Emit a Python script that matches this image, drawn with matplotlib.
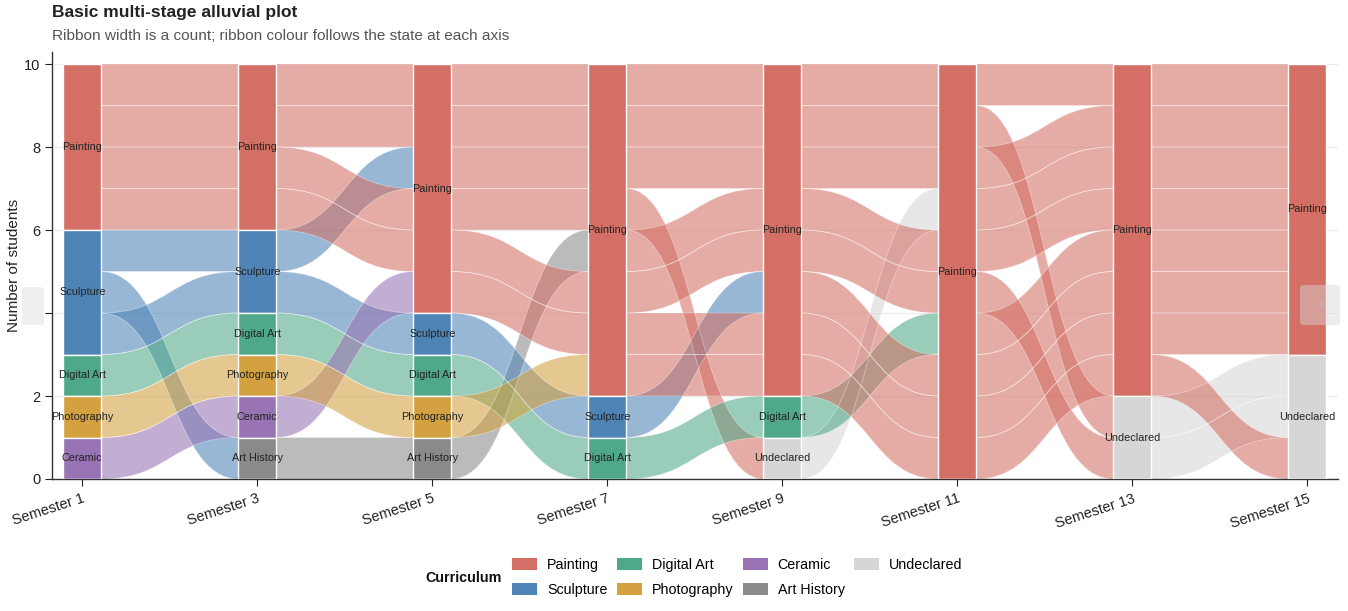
import matplotlib
matplotlib.use("Agg")
import matplotlib.pyplot as plt
from matplotlib.path import Path
from matplotlib.patches import PathPatch, Rectangle, Patch, FancyBboxPatch

plt.rcParams['font.family'] = ['Liberation Sans', 'DejaVu Sans']

# ---------------- data ----------------
semesters = ["Semester 1", "Semester 3", "Semester 5", "Semester 7",
             "Semester 9", "Semester 11", "Semester 13", "Semester 15"]
curricula = ["Painting", "Sculpture", "Digital Art", "Photography",
             "Ceramic", "Art History", "Undeclared"]   # stacking order, top -> bottom
colors = {"Painting": "#D36F64", "Sculpture": "#4E84B5", "Digital Art": "#4FA887",
          "Photography": "#D3A140", "Ceramic": "#9974B4", "Art History": "#8A8A8A",
          "Undeclared": "#D6D6D6"}

# one path per student (state at each semester), listed in lode order
student_1 = ["Painting", "Painting", "Painting", "Painting", "Painting", "Painting", "Painting", "Painting"]
student_2 = ["Painting", "Painting", "Painting", "Painting", "Painting", "Painting", "Undeclared", "Undeclared"]
student_3 = ["Sculpture", "Sculpture", "Painting", "Painting", "Painting", "Painting", "Painting", "Painting"]
student_4 = ["Painting", "Painting", "Painting", "Painting", "Undeclared", "Painting", "Painting", "Painting"]
student_5 = ["Sculpture", "Art History", "Art History", "Painting", "Painting", "Painting", "Painting", "Painting"]
student_6 = ["Painting", "Painting", "Painting", "Painting", "Painting", "Painting", "Undeclared", "Undeclared"]
student_7 = ["Digital Art", "Digital Art", "Digital Art", "Digital Art", "Digital Art", "Painting", "Painting", "Painting"]
student_8 = ["Sculpture", "Sculpture", "Sculpture", "Sculpture", "Painting", "Painting", "Painting", "Painting"]
student_9 = ["Ceramic", "Ceramic", "Painting", "Painting", "Painting", "Painting", "Painting", "Painting"]
student_10 = ["Photography", "Photography", "Photography", "Painting", "Painting", "Painting", "Painting", "Undeclared"]
students = [student_1, student_2, student_3, student_4, student_5,
            student_6, student_7, student_8, student_9, student_10]
counts = [1] * len(students)   # each ribbon lode counts one student

# ---------------- layout ----------------
W, H = 1348, 611
fig = plt.figure(figsize=(W / 100, H / 100), dpi=100)
ax_l, ax_r, ax_t, ax_b = 52, 1338, 52, 479
ax = fig.add_axes([ax_l / W, 1 - ax_b / H, (ax_r - ax_l) / W, (ax_b - ax_t) / H])

n_axes = len(semesters)
total = sum(counts)
sw = 0.215   # stratum width (axis units)

# compute lode positions at each axis
lodes = []  # lodes[a][s] = (bottom, top)
strata = []  # strata[a] = list of (name, bottom, top)
for a in range(n_axes):
    pos = {}
    st = []
    cur = total
    for c in curricula:
        top_c = cur
        for s, path in enumerate(students):
            if path[a] == c:
                pos[s] = (cur - counts[s], cur)
                cur -= counts[s]
        if cur < top_c:
            st.append((c, cur, top_c))
    lodes.append(pos)
    strata.append(st)

# gridlines
for yv in range(0, 11, 2):
    ax.axhline(yv, color="#EBEBEB", lw=0.8, zorder=0)

# ribbons
for a in range(n_axes - 1):
    x0 = a + sw / 2
    x1 = a + 1 - sw / 2
    xm = (x0 + x1) / 2
    for s, path in enumerate(students):
        b0, t0 = lodes[a][s]
        b1, t1 = lodes[a + 1][s]
        verts = [(x0, t0), (xm, t0), (xm, t1), (x1, t1),
                 (x1, b1), (xm, b1), (xm, b0), (x0, b0), (x0, t0)]
        codes = [Path.MOVETO, Path.CURVE4, Path.CURVE4, Path.CURVE4,
                 Path.LINETO, Path.CURVE4, Path.CURVE4, Path.CURVE4, Path.CLOSEPOLY]
        ax.add_patch(PathPatch(Path(verts, codes), facecolor=colors[path[a]],
                               alpha=0.58, edgecolor="none", zorder=2))
        ax.add_patch(PathPatch(Path(verts, codes), facecolor="none",
                               edgecolor=(1, 1, 1, 0.4), lw=0.6, zorder=2.5))

# strata
for a in range(n_axes):
    for c, b, t in strata[a]:
        ax.add_patch(Rectangle((a - sw / 2, b), sw, t - b, facecolor=colors[c],
                               edgecolor="white", lw=1.0, zorder=3))
        ax.text(a, (b + t) / 2, c, ha="center", va="center", fontsize=7.8,
                color="#222222", zorder=4)

ax.set_xlim(-0.173, 7.176)
ax.set_ylim(0, 10.29)
ax.set_xticks(range(n_axes))
ax.set_xticklabels(semesters, rotation=18, ha="right", rotation_mode="anchor",
                   fontsize=10.5, color="#222222")
ax.set_yticks(range(0, 11, 2))
ax.tick_params(axis="y", labelsize=10.5, colors="#222222", length=5, width=0.8)
ax.tick_params(axis="x", length=5, width=0.8, colors="#222222", pad=4)
for sp in ["top", "right"]:
    ax.spines[sp].set_visible(False)
for sp in ["left", "bottom"]:
    ax.spines[sp].set_color("#333333")
    ax.spines[sp].set_linewidth(1.0)
ax.set_ylabel("Number of students", fontsize=11, color="#222222", labelpad=2)

# titles
fig.text(52 / W, 1 - 12 / H, "Basic multi-stage alluvial plot", fontsize=12.5,
         fontweight="bold", color="#222222", ha="left", va="center")
fig.text(52 / W, 1 - 36 / H, "Ribbon width is a count; ribbon colour follows the state at each axis",
         fontsize=11.1, color="#555555", ha="left", va="center")

# legend
handles = [Patch(facecolor=colors[c], edgecolor="none") for c in curricula]
fig.legend(handles, curricula, ncol=4, loc="center left",
           bbox_to_anchor=(512 / W, 1 - 577.5 / H), frameon=False, fontsize=10.3,
           handlelength=1.75, handleheight=0.95, handletextpad=0.7,
           columnspacing=0.65, labelspacing=0.78, borderaxespad=0, borderpad=0)
fig.text(425 / W, 1 - 578 / H, "Curriculum", fontsize=10.3, fontweight="bold",
         color="#111111", ha="left", va="center")

# carousel overlays
fig.patches.append(FancyBboxPatch((22 / W, 1 - 325 / H), 22 / W, 38 / H,
                                  boxstyle="round,pad=0,rounding_size=0.004",
                                  transform=fig.transFigure, facecolor="#EFEFEF",
                                  edgecolor="none", zorder=0))
fig.patches.append(FancyBboxPatch((1300 / W, 1 - 325 / H), 40 / W, 40 / H,
                                  boxstyle="round,pad=0,rounding_size=0.004",
                                  transform=fig.transFigure, facecolor=(0.85, 0.85, 0.85, 0.45),
                                  edgecolor="none", zorder=10))
fig.text(1320 / W, 1 - 305 / H, "›", fontsize=12, color="#BBBBBB",
         ha="center", va="center", zorder=11)

fig.savefig("out.png", dpi=100)
